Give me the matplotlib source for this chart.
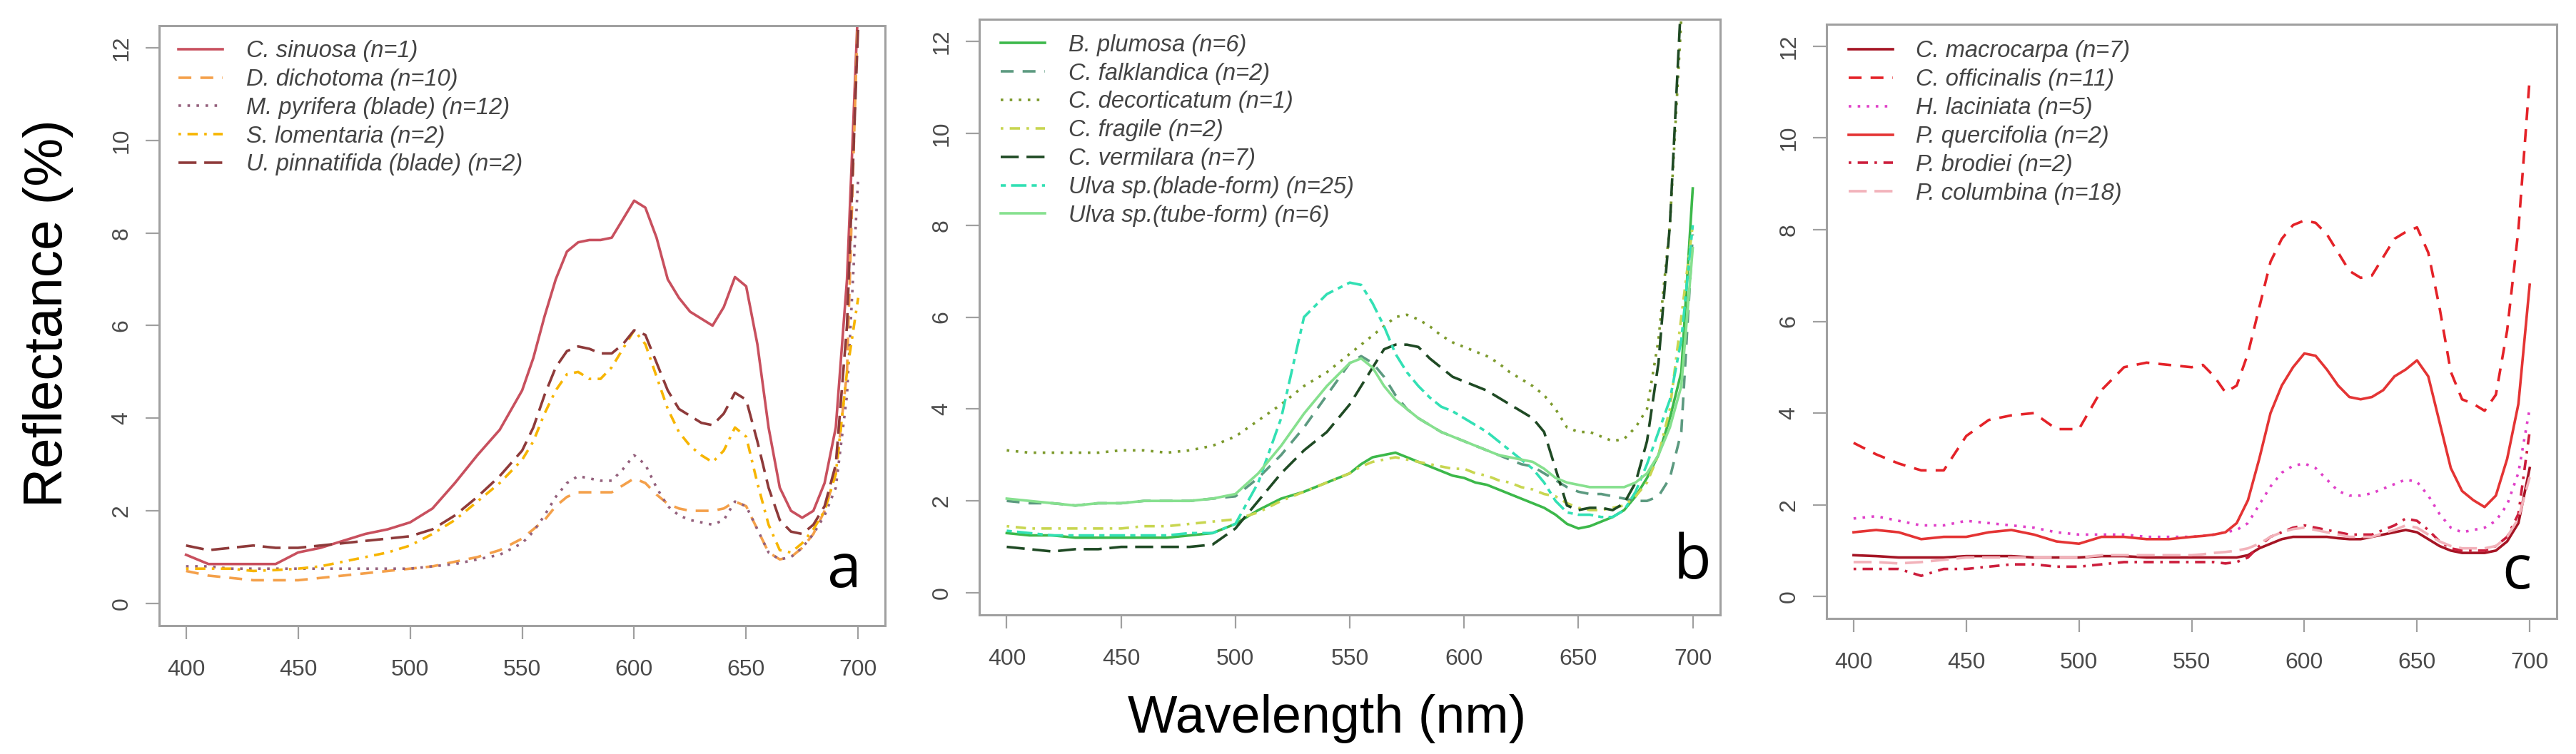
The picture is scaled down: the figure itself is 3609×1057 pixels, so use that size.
import matplotlib
matplotlib.use("Agg")
import matplotlib.pyplot as plt

# ---------------- data ----------------
wavelength = [400, 410, 420, 430, 440, 450, 460, 470, 480, 490, 500, 510, 520, 530, 540, 550,
              555, 560, 565, 570, 575, 580, 585, 590, 595, 600, 605, 610, 615, 620, 625, 630,
              635, 640, 645, 650, 655, 660, 665, 670, 675, 680, 685, 690, 695, 700]

# panel a (brown algae)
labels_a = ["C. sinuosa (n=1)", "D. dichotoma (n=10)", "M. pyrifera (blade) (n=12)",
            "S. lomentaria (n=2)", "U. pinnatifida (blade) (n=2)"]
c_sinuosa = [1.05, 0.85, 0.85, 0.85, 0.85, 1.1, 1.2, 1.35, 1.5, 1.6, 1.75, 2.05, 2.6, 3.2, 3.75, 4.6,
             5.3, 6.2, 7.0, 7.6, 7.8, 7.85, 7.85, 7.9, 8.3, 8.7, 8.55, 7.9, 7.0, 6.6, 6.3, 6.15,
             6.0, 6.4, 7.05, 6.85, 5.6, 3.8, 2.5, 2.0, 1.85, 2.0, 2.6, 3.8, 7.0, 13.0]
d_dichotoma = [0.7, 0.6, 0.55, 0.5, 0.5, 0.5, 0.55, 0.6, 0.65, 0.7, 0.75, 0.8, 0.9, 1.0, 1.15, 1.4,
               1.6, 1.8, 2.1, 2.3, 2.4, 2.4, 2.4, 2.4, 2.55, 2.7, 2.6, 2.35, 2.15, 2.05, 2.0, 2.0,
               2.0, 2.05, 2.2, 2.1, 1.6, 1.1, 0.95, 1.0, 1.2, 1.5, 2.0, 2.8, 5.0, 13.0]
m_pyrifera = [0.8, 0.8, 0.75, 0.75, 0.75, 0.75, 0.75, 0.75, 0.75, 0.75, 0.75, 0.8, 0.85, 0.95, 1.05, 1.3,
              1.55, 1.9, 2.3, 2.6, 2.75, 2.7, 2.65, 2.65, 2.9, 3.2, 3.0, 2.5, 2.1, 1.9, 1.8, 1.75,
              1.7, 1.8, 2.2, 2.1, 1.6, 1.1, 0.95, 1.0, 1.2, 1.5, 1.9, 2.5, 4.5, 9.2]
s_lomentaria = [0.75, 0.75, 0.75, 0.7, 0.72, 0.75, 0.8, 0.9, 1.0, 1.1, 1.25, 1.5, 1.8, 2.2, 2.6, 3.1,
                3.5, 4.1, 4.6, 4.95, 5.0, 4.85, 4.85, 5.1, 5.5, 5.9, 5.6, 4.9, 4.2, 3.7, 3.4, 3.2,
                3.05, 3.3, 3.8, 3.6, 2.6, 1.7, 1.15, 1.1, 1.3, 1.6, 2.0, 2.8, 5.0, 6.6]
u_pinnatifida = [1.25, 1.15, 1.2, 1.25, 1.2, 1.2, 1.25, 1.3, 1.35, 1.4, 1.45, 1.6, 1.9, 2.3, 2.75, 3.3,
                 3.8, 4.5, 5.1, 5.45, 5.55, 5.5, 5.4, 5.4, 5.6, 5.9, 5.8, 5.2, 4.6, 4.2, 4.05, 3.9,
                 3.85, 4.1, 4.55, 4.4, 3.5, 2.5, 1.8, 1.55, 1.5, 1.7, 2.1, 3.0, 6.0, 12.5]

# panel b (green algae)
labels_b = ["B. plumosa (n=6)", "C. falklandica (n=2)", "C. decorticatum (n=1)", "C. fragile (n=2)",
            "C. vermilara (n=7)", "Ulva sp.(blade-form) (n=25)", "Ulva sp.(tube-form) (n=6)"]
b_plumosa = [1.3, 1.25, 1.25, 1.2, 1.2, 1.2, 1.2, 1.2, 1.25, 1.3, 1.5, 1.8, 2.05, 2.2, 2.4, 2.6,
             2.8, 2.95, 3.0, 3.05, 2.95, 2.85, 2.75, 2.65, 2.55, 2.5, 2.4, 2.35, 2.25, 2.15, 2.05, 1.95,
             1.85, 1.7, 1.5, 1.4, 1.45, 1.55, 1.65, 1.8, 2.1, 2.5, 3.0, 3.8, 4.8, 8.8]
c_falklandica = [2.0, 1.95, 1.95, 1.9, 1.95, 1.95, 2.0, 2.0, 2.0, 2.05, 2.1, 2.5, 3.0, 3.6, 4.3, 5.0,
                 5.15, 5.0, 4.7, 4.3, 4.0, 3.8, 3.65, 3.5, 3.4, 3.3, 3.2, 3.1, 3.0, 2.9, 2.8, 2.75,
                 2.6, 2.45, 2.3, 2.2, 2.15, 2.15, 2.1, 2.05, 2.0, 2.0, 2.1, 2.5, 3.5, 7.8]
c_decorticatum = [3.1, 3.05, 3.05, 3.05, 3.05, 3.1, 3.1, 3.05, 3.1, 3.2, 3.4, 3.75, 4.1, 4.5, 4.8, 5.2,
                  5.4, 5.6, 5.8, 6.0, 6.05, 5.95, 5.8, 5.6, 5.45, 5.35, 5.25, 5.15, 5.0, 4.8, 4.65, 4.5,
                  4.3, 4.0, 3.6, 3.5, 3.5, 3.4, 3.3, 3.35, 3.6, 4.0, 5.5, 8.0, 12.5, 14.0]
c_fragile = [1.45, 1.4, 1.4, 1.4, 1.4, 1.4, 1.45, 1.45, 1.5, 1.55, 1.6, 1.75, 2.0, 2.2, 2.4, 2.6,
             2.75, 2.85, 2.9, 2.95, 2.9, 2.85, 2.8, 2.75, 2.7, 2.7, 2.6, 2.55, 2.45, 2.4, 2.3, 2.25,
             2.15, 2.1, 1.95, 1.85, 1.8, 1.8, 1.85, 1.9, 2.1, 2.4, 3.0, 4.0, 6.0, 8.0]
c_vermilara = [1.0, 0.95, 0.9, 0.95, 0.95, 1.0, 1.0, 1.0, 1.0, 1.05, 1.4, 2.0, 2.6, 3.1, 3.5, 4.1,
               4.5, 4.9, 5.3, 5.4, 5.4, 5.35, 5.1, 4.9, 4.7, 4.6, 4.5, 4.4, 4.25, 4.1, 3.95, 3.8,
               3.5, 2.7, 1.9, 1.8, 1.85, 1.85, 1.8, 1.95, 2.4, 3.3, 5.0, 8.0, 13.0, 14.0]
ulva_blade = [1.35, 1.3, 1.25, 1.25, 1.25, 1.25, 1.25, 1.25, 1.3, 1.3, 1.5, 2.4, 3.8, 6.0, 6.5, 6.75,
              6.7, 6.3, 5.8, 5.2, 4.8, 4.5, 4.25, 4.05, 3.95, 3.8, 3.65, 3.5, 3.3, 3.1, 2.9, 2.7,
              2.4, 2.0, 1.75, 1.7, 1.7, 1.65, 1.65, 1.8, 2.2, 2.8, 3.5, 4.2, 5.5, 8.0]
ulva_tube = [2.05, 2.0, 1.95, 1.9, 1.95, 1.95, 2.0, 2.0, 2.0, 2.05, 2.15, 2.6, 3.2, 3.9, 4.5, 5.0,
             5.1, 4.9, 4.5, 4.2, 4.0, 3.8, 3.65, 3.5, 3.4, 3.3, 3.2, 3.1, 3.0, 2.95, 2.9, 2.85,
             2.7, 2.5, 2.4, 2.35, 2.3, 2.3, 2.3, 2.3, 2.4, 2.6, 3.0, 3.6, 4.5, 7.5]

# panel c (red algae)
labels_c = ["C. macrocarpa (n=7)", "C. officinalis (n=11)", "H. laciniata (n=5)",
            "P. quercifolia (n=2)", "P. brodiei (n=2)", "P. columbina (n=18)"]
c_macrocarpa = [0.9, 0.88, 0.85, 0.85, 0.85, 0.88, 0.88, 0.88, 0.85, 0.85, 0.85, 0.88, 0.88, 0.85, 0.85, 0.85,
                0.85, 0.85, 0.85, 0.85, 0.9, 1.05, 1.15, 1.25, 1.3, 1.3, 1.3, 1.3, 1.27, 1.25, 1.25, 1.3,
                1.35, 1.4, 1.45, 1.4, 1.25, 1.1, 1.0, 0.95, 0.95, 0.95, 1.0, 1.2, 1.6, 2.8]
c_officinalis = [3.35, 3.1, 2.9, 2.75, 2.75, 3.5, 3.85, 3.95, 4.0, 3.65, 3.65, 4.5, 5.0, 5.1, 5.05, 5.0,
                 5.05, 4.8, 4.45, 4.6, 5.3, 6.3, 7.3, 7.8, 8.1, 8.2, 8.15, 7.9, 7.5, 7.1, 6.95, 7.0,
                 7.4, 7.8, 7.95, 8.05, 7.5, 6.3, 4.9, 4.3, 4.2, 4.05, 4.4, 5.8, 8.0, 11.3]
h_laciniata = [1.7, 1.75, 1.65, 1.55, 1.55, 1.65, 1.6, 1.55, 1.5, 1.4, 1.35, 1.35, 1.35, 1.3, 1.3, 1.3,
               1.32, 1.35, 1.4, 1.45, 1.6, 2.0, 2.4, 2.7, 2.85, 2.9, 2.8, 2.55, 2.3, 2.2, 2.2, 2.25,
               2.35, 2.45, 2.55, 2.5, 2.2, 1.8, 1.5, 1.4, 1.45, 1.5, 1.65, 2.0, 2.7, 4.1]
p_quercifolia = [1.4, 1.45, 1.4, 1.25, 1.3, 1.3, 1.4, 1.45, 1.35, 1.2, 1.15, 1.3, 1.3, 1.25, 1.25, 1.3,
                 1.32, 1.35, 1.4, 1.6, 2.1, 3.0, 4.0, 4.6, 5.0, 5.3, 5.25, 4.95, 4.6, 4.35, 4.3, 4.35,
                 4.5, 4.8, 4.95, 5.15, 4.8, 3.8, 2.8, 2.3, 2.1, 1.95, 2.2, 3.0, 4.2, 6.8]
p_brodiei = [0.6, 0.6, 0.6, 0.45, 0.6, 0.6, 0.65, 0.7, 0.7, 0.65, 0.65, 0.7, 0.75, 0.75, 0.75, 0.75,
             0.75, 0.75, 0.72, 0.75, 0.85, 1.1, 1.3, 1.4, 1.5, 1.55, 1.5, 1.45, 1.4, 1.35, 1.35, 1.35,
             1.45, 1.55, 1.7, 1.65, 1.45, 1.2, 1.05, 1.0, 1.0, 1.0, 1.1, 1.3, 1.8, 3.6]
p_columbina = [0.75, 0.75, 0.72, 0.75, 0.8, 0.85, 0.85, 0.85, 0.85, 0.85, 0.85, 0.9, 0.9, 0.9, 0.9, 0.9,
               0.92, 0.95, 0.97, 1.0, 1.05, 1.15, 1.3, 1.4, 1.47, 1.5, 1.45, 1.4, 1.35, 1.3, 1.3, 1.3,
               1.38, 1.45, 1.55, 1.5, 1.35, 1.2, 1.1, 1.05, 1.05, 1.05, 1.1, 1.3, 1.7, 2.6]

x_ticks = [400, 450, 500, 550, 600, 650, 700]
y_ticks = [0, 2, 4, 6, 8, 10, 12]
panel_letters = ["a", "b", "c"]

# ---------------- styles ----------------
SOLID = "-"
DASH = (0, (5, 3.5))
DOT = (0, (1, 2.5))
DOTDASH = (0, (1, 2.5, 4, 2.5))
LONGDASH = (0, (7, 3))
TWODASH = (0, (2, 2, 6, 2))

panels = [
    dict(series=[c_sinuosa, d_dichotoma, m_pyrifera, s_lomentaria, u_pinnatifida], labels=labels_a,
         colors=["#c8505e", "#f4a04a", "#94607c", "#f7b500", "#8e3a3a"],
         styles=[SOLID, DASH, DOT, DOTDASH, LONGDASH],
         rect=[223, 36, 1240, 877], legend_xy=(0.0265, 0.976), letter_xy=(0.967, 0.064)),
    dict(series=[b_plumosa, c_falklandica, c_decorticatum, c_fragile, c_vermilara, ulva_blade, ulva_tube],
         labels=labels_b,
         colors=["#3cb84a", "#5c9a80", "#7c9a2c", "#c8d650", "#1f4a24", "#32e0b4", "#86e08e"],
         styles=[SOLID, DASH, DOT, DOTDASH, LONGDASH, TWODASH, SOLID],
         rect=[1372, 27, 2410, 862], legend_xy=(0.029, 0.975), letter_xy=(0.988, 0.061)),
    dict(series=[c_macrocarpa, c_officinalis, h_laciniata, p_quercifolia, p_brodiei, p_columbina],
         labels=labels_c,
         colors=["#a51424", "#e42228", "#e040c8", "#e43434", "#cc1e3c", "#f2b2ba"],
         styles=[SOLID, DASH, DOT, SOLID, DOTDASH, LONGDASH],
         rect=[2559, 34, 3582, 867], legend_xy=(0.030, 0.973), letter_xy=(0.965, 0.050)),
]

W, H = 3609, 1057
fig = plt.figure(figsize=(W / 100, H / 100), dpi=100)
fig.patch.set_facecolor("white")

FRAME = "#a0a0a0"
TICKTXT = "#4a4a4a"

for p, letter in zip(panels, panel_letters):
    l, t, r, b = p["rect"]
    ax = fig.add_axes([l / W, 1 - b / H, (r - l) / W, (b - t) / H])
    for ys, lab, col, ls in zip(p["series"], p["labels"], p["colors"], p["styles"]):
        ax.plot(wavelength, ys, color=col, linestyle=ls, linewidth=2.6, label=lab)
    ax.set_xlim(388, 712)
    ax.set_ylim(-0.48, 12.48)
    ax.set_xticks(x_ticks)
    ax.set_yticks(y_ticks)
    ax.set_xticklabels([str(v) for v in x_ticks])
    ax.set_yticklabels([str(v) for v in y_ticks], rotation=90, va="center")
    for s in ax.spines.values():
        s.set_color(FRAME)
        s.set_linewidth(2.2)
    ax.tick_params(axis="both", direction="out", length=14, width=1.6, color=FRAME,
                   labelsize=23, labelcolor=TICKTXT)
    ax.tick_params(axis="x", pad=20)
    ax.tick_params(axis="y", pad=13)
    for lbl in ax.get_xticklabels() + ax.get_yticklabels():
        lbl.set_family("Liberation Sans")
    leg = ax.legend(loc="upper left", bbox_to_anchor=p["legend_xy"], frameon=False,
                    borderaxespad=0, borderpad=0, handlelength=1.9, handletextpad=1.0,
                    labelspacing=0.27,
                    prop=dict(family="Liberation Sans", style="italic", size=23.5))
    for txt in leg.get_texts():
        txt.set_color("#444444")
    ax.text(p["letter_xy"][0], p["letter_xy"][1], letter, transform=ax.transAxes,
            ha="right", va="baseline", fontsize=62, family="Open Sans", color="black")

fig.text(68 / W, 1 - 439 / H, "Reflectance (%)", rotation=90, ha="center", va="center",
         fontsize=55, family="Liberation Sans", color="black")
fig.text(1859 / W, 1 - 1008 / H, "Wavelength (nm)", ha="center", va="center",
         fontsize=53, family="Liberation Sans", color="black")

fig.savefig("out.png", dpi=100, facecolor="white")
